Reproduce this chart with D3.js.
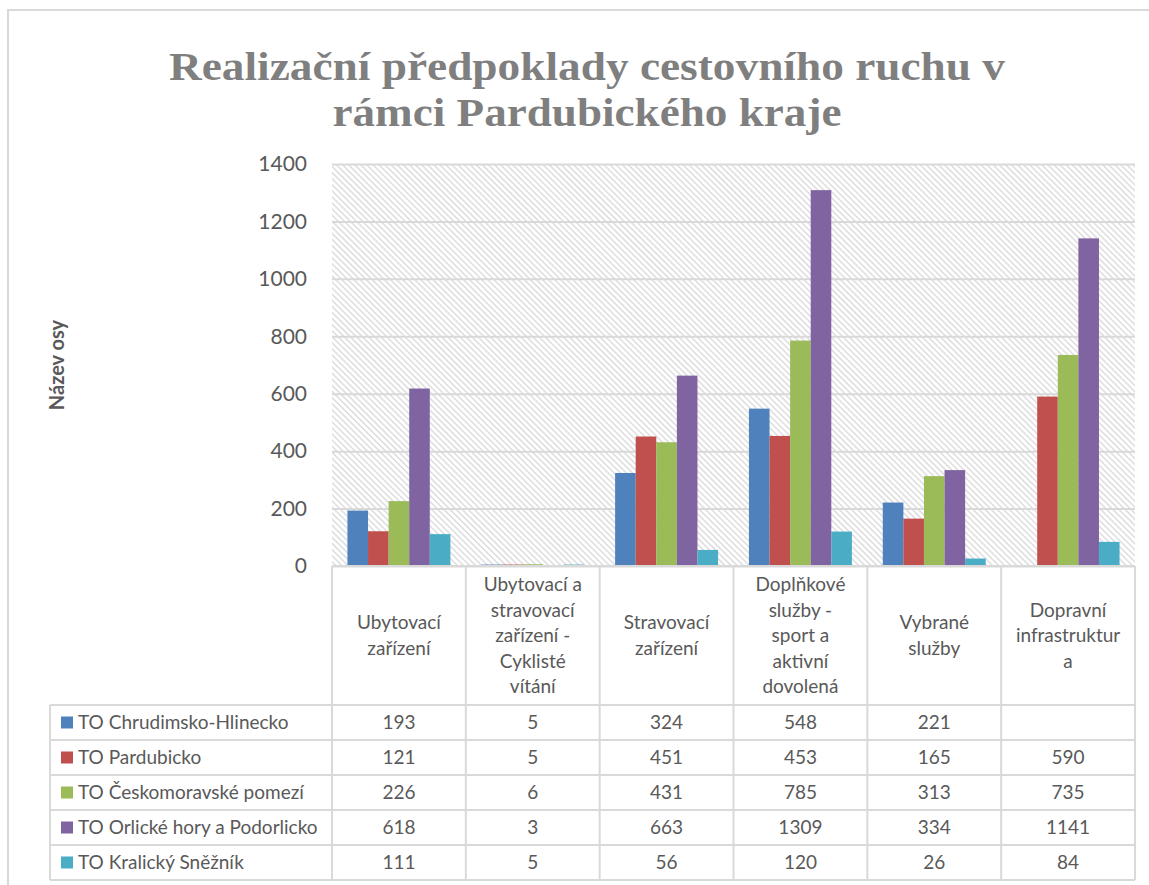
<!DOCTYPE html>
<html>
<head>
<meta charset="utf-8">
<script src="https://cdn.jsdelivr.net/npm/d3@7"></script>
<style>
  html, body { margin: 0; padding: 0; background: #fff; }
  svg { display: block; }
</style>
</head>
<body>
<svg id="chart" width="1149" height="885"></svg>
<script>
// Categories (header lines as wrapped in the data table)
const categories = [
  "Ubytovací zařízení",
  "Ubytovací a stravovací zařízení - Cyklisté vítání",
  "Stravovací zařízení",
  "Doplňkové služby - sport a aktivní dovolená",
  "Vybrané služby",
  "Dopravní infrastruktura"
];
const categoryLines = [
  ["Ubytovací", "zařízení"],
  ["Ubytovací a", "stravovací", "zařízení -", "Cyklisté", "vítání"],
  ["Stravovací", "zařízení"],
  ["Doplňkové", "služby -", "sport a", "aktivní", "dovolená"],
  ["Vybrané", "služby"],
  ["Dopravní", "infrastruktur", "a"]
];

const seriesNames = [
  "TO Chrudimsko-Hlinecko",
  "TO Pardubicko",
  "TO Českomoravské pomezí",
  "TO Orlické hory a Podorlicko",
  "TO Kralický Sněžník"
];
const chrudimsko = [193, 5, 324, 548, 221, null];
const pardubicko = [121, 5, 451, 453, 165, 590];
const ceskomoravske = [226, 6, 431, 785, 313, 735];
const orlicke = [618, 3, 663, 1309, 334, 1141];
const kralicky = [111, 5, 56, 120, 26, 84];
const seriesValues = [chrudimsko, pardubicko, ceskomoravske, orlicke, kralicky];
const seriesColors = ["#4F81BD", "#C0504D", "#9BBB59", "#8064A2", "#4BACC6"];

const yTicks = [0, 200, 400, 600, 800, 1000, 1200, 1400];

const titleLines = ["Realizační předpoklady cestovního ruchu v", "rámci Pardubického kraje"];
const yAxisTitle = "Název osy";

// Layout
const plot = { left: 332, right: 1135, top: 164, bottom: 566 };
const table = { legendLeft: 50, headerBottom: 705, rowH: 35 };
const grid = "#d9d9d9";
const textColor = "#595959";
const font = "Lato, 'Open Sans', sans-serif";

const svg = d3.select("#chart");

// Hatch fill for the plot area
const defs = svg.append("defs");
const pat = defs.append("pattern")
  .attr("id", "hatch")
  .attr("patternUnits", "userSpaceOnUse")
  .attr("width", 4.3).attr("height", 10)
  .attr("patternTransform", "rotate(-45)");
pat.append("line")
  .attr("x1", 1).attr("y1", 0).attr("x2", 1).attr("y2", 10)
  .attr("stroke", "#dadada").attr("stroke-width", 1.4);

// Outer chart frame
svg.append("path")
  .attr("d", `M8,885 L8,10 L1149,10`)
  .attr("fill", "none").attr("stroke", grid).attr("stroke-width", 2);

// Title: two lines, slightly widened glyphs
const titleWidths = [836, 509];
svg.append("g").selectAll("text").data(titleLines).join("text")
  .attr("x", 587).attr("y", (d, i) => 80 + i * 46)
  .attr("text-anchor", "middle")
  .attr("font-family", "'Liberation Serif', 'DejaVu Serif', serif")
  .attr("font-weight", "bold").attr("font-size", 41)
  .attr("fill", "#7f7f7f")
  .attr("textLength", (d, i) => titleWidths[i])
  .attr("lengthAdjust", "spacingAndGlyphs")
  .text(d => d);

// Scales
const x = d3.scaleBand().domain(categories).range([plot.left, plot.right]);
const xs = d3.scaleBand().domain(seriesNames).range([0, x.bandwidth()])
  .paddingInner(0).paddingOuter(0.75);
const y = d3.scaleLinear().domain([0, 1400]).range([plot.bottom, plot.top]);

// Plot background
svg.append("rect")
  .attr("x", plot.left).attr("y", plot.top)
  .attr("width", plot.right - plot.left).attr("height", plot.bottom - plot.top)
  .attr("fill", "url(#hatch)");

// Gridlines and value axis labels
const yAxis = d3.axisLeft(y).tickValues(yTicks).tickFormat(d3.format("d"))
  .tickSize(-(plot.right - plot.left)).tickPadding(25);
const gY = svg.append("g").attr("transform", `translate(${plot.left},0)`).call(yAxis);
gY.select(".domain").remove();
gY.selectAll(".tick line").attr("stroke", grid).attr("stroke-width", 2);
gY.selectAll(".tick text")
  .attr("font-family", font).attr("font-size", 21).attr("fill", textColor);

// Bars
const groups = svg.append("g").selectAll("g").data(seriesNames).join("g")
  .attr("fill", (d, i) => seriesColors[i]);
groups.selectAll("rect")
  .data((s, si) => categories.map((c, ci) => ({ s, c, v: seriesValues[si][ci] })).filter(d => d.v != null))
  .join("rect")
  .attr("x", d => x(d.c) + xs(d.s))
  .attr("width", xs.bandwidth())
  .attr("y", d => y(d.v))
  .attr("height", d => y(0) - y(d.v));

// Data table
const tableBottom = table.headerBottom + table.rowH * seriesNames.length;
const tg = svg.append("g").attr("stroke", grid).attr("stroke-width", 2).attr("fill", "none");
tg.append("line").attr("x1", plot.left).attr("x2", plot.right).attr("y1", plot.bottom).attr("y2", plot.bottom);
const colEdges = categories.map(c => x(c)).concat([plot.right]);
tg.selectAll("line.col").data(colEdges).join("line").attr("class", "col")
  .attr("x1", d => d).attr("x2", d => d)
  .attr("y1", plot.bottom).attr("y2", tableBottom);
const rowEdges = d3.range(seriesNames.length + 1).map(i => table.headerBottom + i * table.rowH);
tg.selectAll("line.row").data(rowEdges).join("line").attr("class", "row")
  .attr("x1", table.legendLeft).attr("x2", plot.right)
  .attr("y1", d => d).attr("y2", d => d);
tg.append("line").attr("x1", table.legendLeft).attr("x2", table.legendLeft)
  .attr("y1", table.headerBottom).attr("y2", tableBottom);

// Header labels
const headerMid = (plot.bottom + table.headerBottom) / 2;
const lineH = 25.5;
const hdr = svg.append("g").selectAll("text").data(categories).join("text")
  .attr("text-anchor", "middle")
  .attr("font-family", font).attr("font-size", 19).attr("fill", textColor);
hdr.each(function(c, i) {
  const lines = categoryLines[i];
  const cx = x(c) + x.bandwidth() / 2;
  const y0 = headerMid - (lines.length - 1) * lineH / 2;
  d3.select(this).selectAll("tspan").data(lines).join("tspan")
    .attr("x", cx).attr("y", (d, k) => y0 + k * lineH).attr("dy", "0.35em")
    .text(d => d);
});

// Legend column + values
const rows = svg.append("g").selectAll("g").data(seriesNames).join("g")
  .attr("transform", (d, i) => `translate(0,${table.headerBottom + i * table.rowH + table.rowH / 2})`);
rows.append("rect")
  .attr("x", 61).attr("y", -6).attr("width", 12).attr("height", 12)
  .attr("fill", (d, i) => seriesColors[i]);
rows.append("text")
  .attr("x", 78).attr("dy", "0.35em")
  .attr("font-family", font).attr("font-size", 19).attr("fill", textColor)
  .text(d => d);
rows.each(function(s, si) {
  d3.select(this).selectAll("text.val")
    .data(categories.map((c, ci) => ({ c, v: seriesValues[si][ci] })).filter(d => d.v != null))
    .join("text").attr("class", "val")
    .attr("x", d => x(d.c) + x.bandwidth() / 2).attr("dy", "0.35em")
    .attr("text-anchor", "middle")
    .attr("font-family", font).attr("font-size", 19).attr("fill", textColor)
    .text(d => d.v);
});

// Y axis title
svg.append("text")
  .attr("transform", "translate(64,365) rotate(-90)")
  .attr("text-anchor", "middle")
  .attr("font-family", font).attr("font-weight", "bold").attr("font-size", 20)
  .attr("fill", textColor)
  .text(yAxisTitle);
</script>
</body>
</html>
